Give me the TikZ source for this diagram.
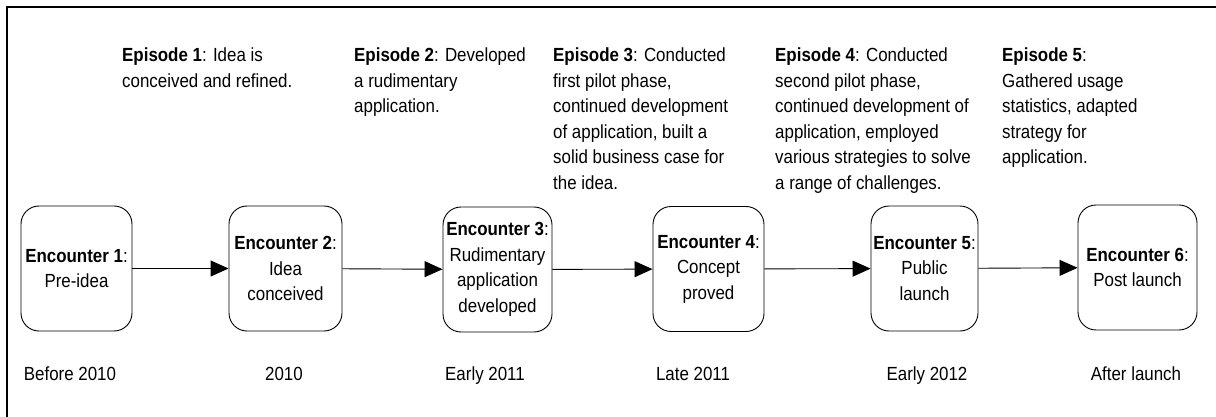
\documentclass[tikz,border=0pt]{standalone}
\usepackage{fontspec}
\setmainfont[FakeStretch=0.89]{Liberation Sans}
\usetikzlibrary{arrows.meta}
\begin{document}
\begin{tikzpicture}[x=1pt,y=-1pt,
  txt/.style={font=\fontsize{19}{25.5}\selectfont, inner sep=0pt},
  enc/.style={txt, draw, line width=0.9pt, rounded corners=18pt, align=center, minimum height=125pt},
  epi/.style={txt, align=left, anchor=north west},
  yr/.style={txt, anchor=base},
  flow/.style={line width=0.9pt, -{Triangle[length=18pt,width=16pt]}}
]
\useasboundingbox (0,0) rectangle (1216,417);
\draw[line width=1.6pt] (7,420) -- (7,7) -- (1220,7);

\node[enc, minimum width=111pt] (e1) at (76.5,268.5) {\textbf{Encounter 1}:\\Pre-idea};
\node[enc, minimum width=113pt] (e2) at (285.5,268.5) {\textbf{Encounter 2}:\\Idea\\conceived};
\node[enc, minimum width=109pt] (e3) at (497.5,269.5) {\textbf{Encounter 3}:\\Rudimentary\\application\\developed};
\node[enc, minimum width=111pt] (e4) at (708.5,269) {\textbf{Encounter 4}:\\Concept\\proved};
\node[enc, minimum width=107pt] (e5) at (924.5,268.5) {\textbf{Encounter 5}:\\Public\\launch};
\node[enc, minimum width=119pt] (e6) at (1137.5,267.5) {\textbf{Encounter 6}:\\Post launch};

\draw[flow] (e1) -- (e2);
\draw[flow] (e2) -- (e3);
\draw[flow] (e3) -- (e4);
\draw[flow] (e4) -- (e5);
\draw[flow] (e5) -- (e6);

\node[epi] (p1) at (122,48) {\textbf{Episode 1}: Idea is\\conceived and refined.};
\node[epi] (p2) at (354,48) {\textbf{Episode 2}: Developed\\a rudimentary\\application.};
\node[epi] (p3) at (553,48) {\textbf{Episode 3}: Conducted\\first pilot phase,\\continued development\\of application, built a\\solid business case for\\the idea.};
\node[epi] (p4) at (775,48) {\textbf{Episode 4}: Conducted\\second pilot phase,\\continued development of\\application, employed\\various strategies to solve\\a range of challenges.};
\node[epi] (p5) at (1002,48) {\textbf{Episode 5}:\\Gathered usage\\statistics, adapted\\strategy for\\application.};

\node[yr] (y1) at (70,380) {Before 2010};
\node[yr] (y2) at (284,380) {2010};
\node[yr] (y3) at (485,380) {Early 2011};
\node[yr] (y4) at (693,380) {Late 2011};
\node[yr] (y5) at (927,380) {Early 2012};
\node[yr] (y6) at (1136,380) {After launch};
\end{tikzpicture}
\end{document}
